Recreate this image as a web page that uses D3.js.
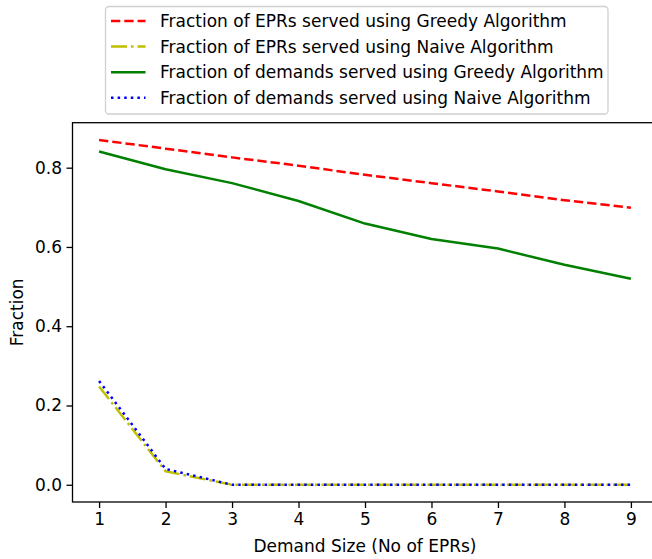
<!DOCTYPE html>
<html>
<head>
<meta charset="utf-8">
<script src="https://cdn.jsdelivr.net/npm/d3@7"></script>
<style>
  body { margin: 0; background: #fff; }
  svg { display: block; font-family: "DejaVu Sans", sans-serif; }
</style>
</head>
<body>
<svg id="chart"></svg>
<script>
// demand sizes (No of EPRs)
let demandSizes = [1, 2, 3, 4, 5, 6, 7, 8, 9];
let eprGreedy = [0.870, 0.848, 0.826, 0.805, 0.782, 0.761, 0.740, 0.718, 0.699];
let eprNaive = [0.248, 0.034, 0, 0, 0, 0, 0, 0, 0];
let demandGreedy = [0.841, 0.796, 0.761, 0.716, 0.659, 0.620, 0.596, 0.555, 0.520];
let demandNaive = [0.262, 0.040, 0, 0, 0, 0, 0, 0, 0];
let yTicks = [0.0, 0.2, 0.4, 0.6, 0.8];

let svgWidth = 652, svgHeight = 559;
let plotLeft = 72.5, plotRight = 657.5, plotTop = 122.7, plotBottom = 502;
let fontSize = '17px';

let svg = d3.select('#chart')
            .attr('width', svgWidth)
            .attr('height', svgHeight);

let x = d3.scaleLinear().domain([0.6, 9.4]).range([plotLeft, plotRight]);
let y = d3.scaleLinear().domain([-0.0435, 0.9135]).range([plotBottom, plotTop]);

let lw = 2.5;
let series = [
    {name: 'Fraction of EPRs served using Greedy Algorithm', values: eprGreedy, color: '#ff0000', dash: [9.3, 4]},
    {name: 'Fraction of EPRs served using Naive Algorithm', values: eprNaive, color: '#bfbf00', dash: [16, 4, 2.5, 4]},
    {name: 'Fraction of demands served using Greedy Algorithm', values: demandGreedy, color: '#008000', dash: null},
    {name: 'Fraction of demands served using Naive Algorithm', values: demandNaive, color: '#0000ff', dash: [2.5, 4.1]}
];

let line = d3.line()
             .x(function(d, i) { return x(demandSizes[i]); })
             .y(function(d) { return y(d); });

svg.append('g')
   .selectAll('path')
   .data(series)
   .enter()
   .append('path')
   .attr('d', function(d) { return line(d.values); })
   .attr('fill', 'none')
   .attr('stroke', function(d) { return d.color; })
   .attr('stroke-width', lw)
   .attr('stroke-linecap', 'butt')
   .attr('stroke-linejoin', 'round')
   .attr('stroke-dasharray', function(d) { return d.dash ? d.dash.join(',') : null; });

// axes
let xAxis = d3.axisBottom(x).tickValues(demandSizes).tickSize(6).tickPadding(4.5).tickFormat(d3.format('d'));
let yAxis = d3.axisLeft(y).tickValues(yTicks).tickSize(6).tickPadding(4.5).tickFormat(d3.format('.1f'));

let gx = svg.append('g').attr('transform', 'translate(0,' + plotBottom + ')').call(xAxis);
let gy = svg.append('g').attr('transform', 'translate(' + plotLeft + ',0)').call(yAxis);

[gx, gy].forEach(function(g) {
    g.select('.domain').remove();
    g.selectAll('line').attr('stroke', '#000').attr('stroke-width', 1.3);
    g.selectAll('text').attr('font-size', fontSize).attr('fill', '#000')
     .attr('font-family', '"DejaVu Sans", sans-serif');
});

// frame
svg.append('rect')
   .attr('x', plotLeft).attr('y', plotTop)
   .attr('width', plotRight - plotLeft).attr('height', plotBottom - plotTop)
   .attr('fill', 'none').attr('stroke', '#000').attr('stroke-width', 1.3);

// labels
svg.append('text')
   .attr('x', (plotLeft + plotRight) / 2).attr('y', 552)
   .attr('text-anchor', 'middle').attr('font-size', fontSize)
   .text('Demand Size (No of EPRs)');

svg.append('text')
   .attr('transform', 'translate(23,' + ((plotTop + plotBottom) / 2) + ') rotate(-90)')
   .attr('text-anchor', 'middle').attr('font-size', fontSize)
   .text('Fraction');

// legend
let legend = svg.append('g');
legend.append('rect')
      .attr('x', 105.5).attr('y', 6.5)
      .attr('width', 502.5).attr('height', 107.5)
      .attr('rx', 3.5).attr('ry', 3.5)
      .attr('fill', '#fff').attr('fill-opacity', 0.8)
      .attr('stroke', '#d0d0d0').attr('stroke-width', 1.3);

let items = legend.selectAll('g.item')
                  .data(series)
                  .enter()
                  .append('g')
                  .attr('class', 'item')
                  .attr('transform', function(d, i) {
                      return 'translate(0,' + (21 + i * 25.6) + ')';
                  });

items.append('line')
     .attr('x1', 111).attr('x2', 145.5)
     .attr('y1', 0).attr('y2', 0)
     .attr('stroke', function(d) { return d.color; })
     .attr('stroke-width', lw)
     .attr('stroke-dasharray', function(d) { return d.dash ? d.dash.join(',') : null; });

items.append('text')
     .attr('x', 160).attr('y', 0)
     .attr('dy', '0.36em')
     .attr('font-size', fontSize)
     .text(function(d) { return d.name; });
</script>
</body>
</html>
